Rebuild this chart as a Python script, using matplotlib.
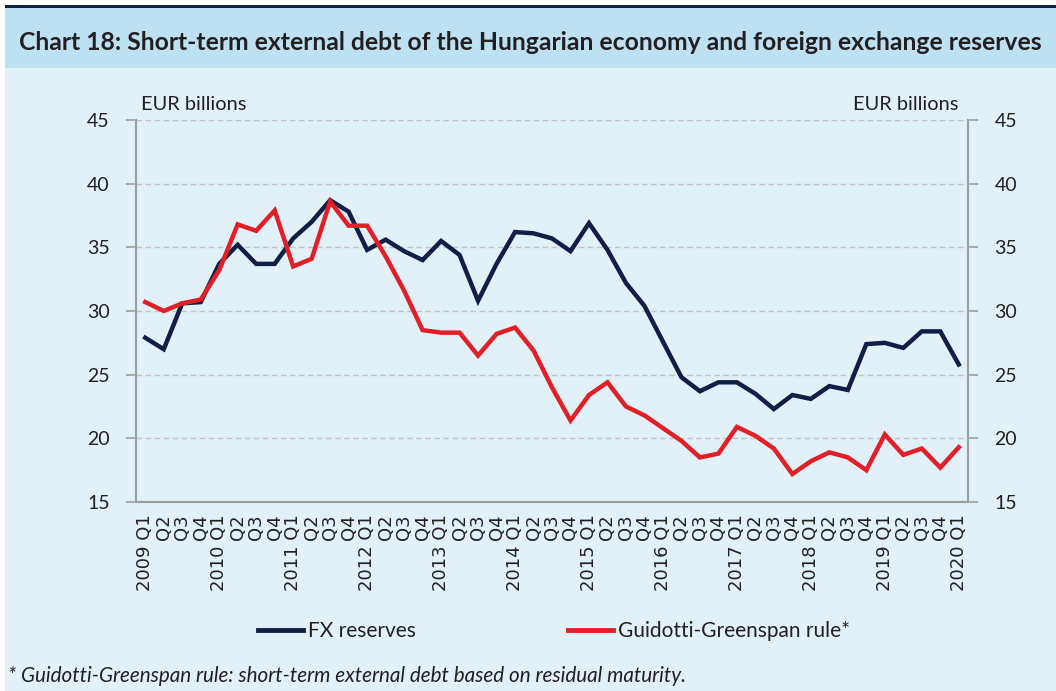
import matplotlib
matplotlib.use("Agg")
import matplotlib.pyplot as plt
from matplotlib.patches import Rectangle
from matplotlib.lines import Line2D

# quarters 2009 Q1 .. 2020 Q1
years = list(range(2009, 2021))
quarter_labels = []
for y in years:
    for q in range(1, 5):
        if y == 2020 and q > 1:
            break
        quarter_labels.append(f"{y} Q{q}" if q == 1 else f"Q{q}")

# EUR billions
fx_reserves = [27.9, 27.0, 30.6, 30.7, 33.7, 35.2, 33.7, 33.7,
               35.7, 37.0, 38.7, 37.8, 34.8, 35.6, 34.7, 34.0,
               35.5, 34.4, 30.8, 33.7, 36.2, 36.1, 35.7, 34.7,
               36.9, 34.8, 32.2, 30.4, 27.6, 24.8, 23.7, 24.4,
               24.4, 23.5, 22.3, 23.4, 23.1, 24.1, 23.8, 27.4,
               27.5, 27.1, 28.4, 28.4, 25.8]
gg_rule = [30.7, 30.0, 30.6, 30.9, 33.2, 36.8, 36.3, 37.9,
           33.5, 34.1, 38.6, 36.7, 36.7, 34.3, 31.6, 28.5,
           28.3, 28.3, 26.5, 28.2, 28.7, 26.9, 24.0, 21.4,
           23.4, 24.4, 22.5, 21.8, 20.8, 19.8, 18.5, 18.8,
           20.9, 20.2, 19.2, 17.2, 18.2, 18.9, 18.5, 17.5,
           20.3, 18.7, 19.2, 17.7, 19.3]

navy = "#0f1f45"
red = "#e31e26"
panel = "#e2f0f8"
banner = "#bde1f3"
txt = "#231f20"
font = "Lato"

W, H = 1056, 691
fig = plt.figure(figsize=(W / 100, H / 100), dpi=100)
fig.patch.set_facecolor("white")

# background panels
fig.add_artist(Rectangle((5 / W, 0), 1, 1 - 68 / H, transform=fig.transFigure,
                         facecolor=panel, edgecolor="none", zorder=-3))
fig.add_artist(Rectangle((5 / W, 1 - 68 / H), 1, 60 / H, transform=fig.transFigure,
                         facecolor=banner, edgecolor="none", zorder=-3))
fig.add_artist(Rectangle((5 / W, 1 - 8 / H), 1, 3 / H, transform=fig.transFigure,
                         facecolor=navy, edgecolor="none", zorder=-3))

fig.text(19 / W, 1 - 42 / H,
         "Chart 18: Short-term external debt of the Hungarian economy and foreign exchange reserves",
         fontsize=17.8, fontweight="bold", color=txt, va="center", ha="left", family=font)

ax = fig.add_axes([136 / W, 1 - 502 / H, (968 - 136) / W, (502 - 120) / H])
ax.set_facecolor(panel)
x = list(range(len(quarter_labels)))
ax.plot(x, fx_reserves, color=navy, lw=3.2, solid_joinstyle="miter", zorder=3)
ax.plot(x, gg_rule, color=red, lw=3.2, solid_joinstyle="miter", zorder=3)

ax.set_xlim(-0.5, len(x) - 0.5)
ax.set_ylim(15, 45)
ax.set_yticks(range(15, 46, 5))
ax.yaxis.grid(True, color="#c4c4c4", ls=(0, (4, 2.5)), lw=1.0)
ax.set_axisbelow(True)

ax.set_xticks(x)
ax.set_xticklabels(quarter_labels, rotation=90, family="DejaVu Sans",
                   fontsize=13, color=txt, va="top", ha="center")
ax.tick_params(axis="x", length=0, pad=9)
ax.tick_params(axis="y", length=7, width=1.2, color="#9d9d9d", labelsize=14,
               labelcolor=txt, pad=12, right=True, labelright=True, direction="out")
for t in ax.yaxis.get_major_ticks():
    t.label1.set_family(font)
    t.label2.set_family(font)

for side in ["left", "right", "bottom"]:
    ax.spines[side].set_color("#9d9d9d")
    ax.spines[side].set_linewidth(1.5)
ax.spines["top"].set_visible(False)

fig.text(141 / W, 1 - 104 / H, "EUR billions", fontsize=14.4, color=txt,
         ha="left", va="center", family=font)
fig.text(958 / W, 1 - 104 / H, "EUR billions", fontsize=14.4, color=txt,
         ha="right", va="center", family=font)

# legend
handles = [Line2D([], [], color=navy, lw=3.5), Line2D([], [], color=red, lw=3.5)]
fig.legend(handles, ["FX reserves", "Guidotti-Greenspan rule*"],
           loc="center", bbox_to_anchor=(554 / W, 1 - 631 / H), ncol=2, frameon=False,
           prop={"family": font, "size": 15}, handlelength=2.15, handletextpad=0.25,
           columnspacing=7.3, labelcolor=txt)

fig.text(8 / W, 1 - 676 / H,
         "* Guidotti-Greenspan rule: short-term external debt based on residual maturity.",
         fontsize=14.9, style="italic", color=txt, ha="left", va="center", family=font)

fig.savefig("out.png", dpi=100, facecolor=fig.get_facecolor())
